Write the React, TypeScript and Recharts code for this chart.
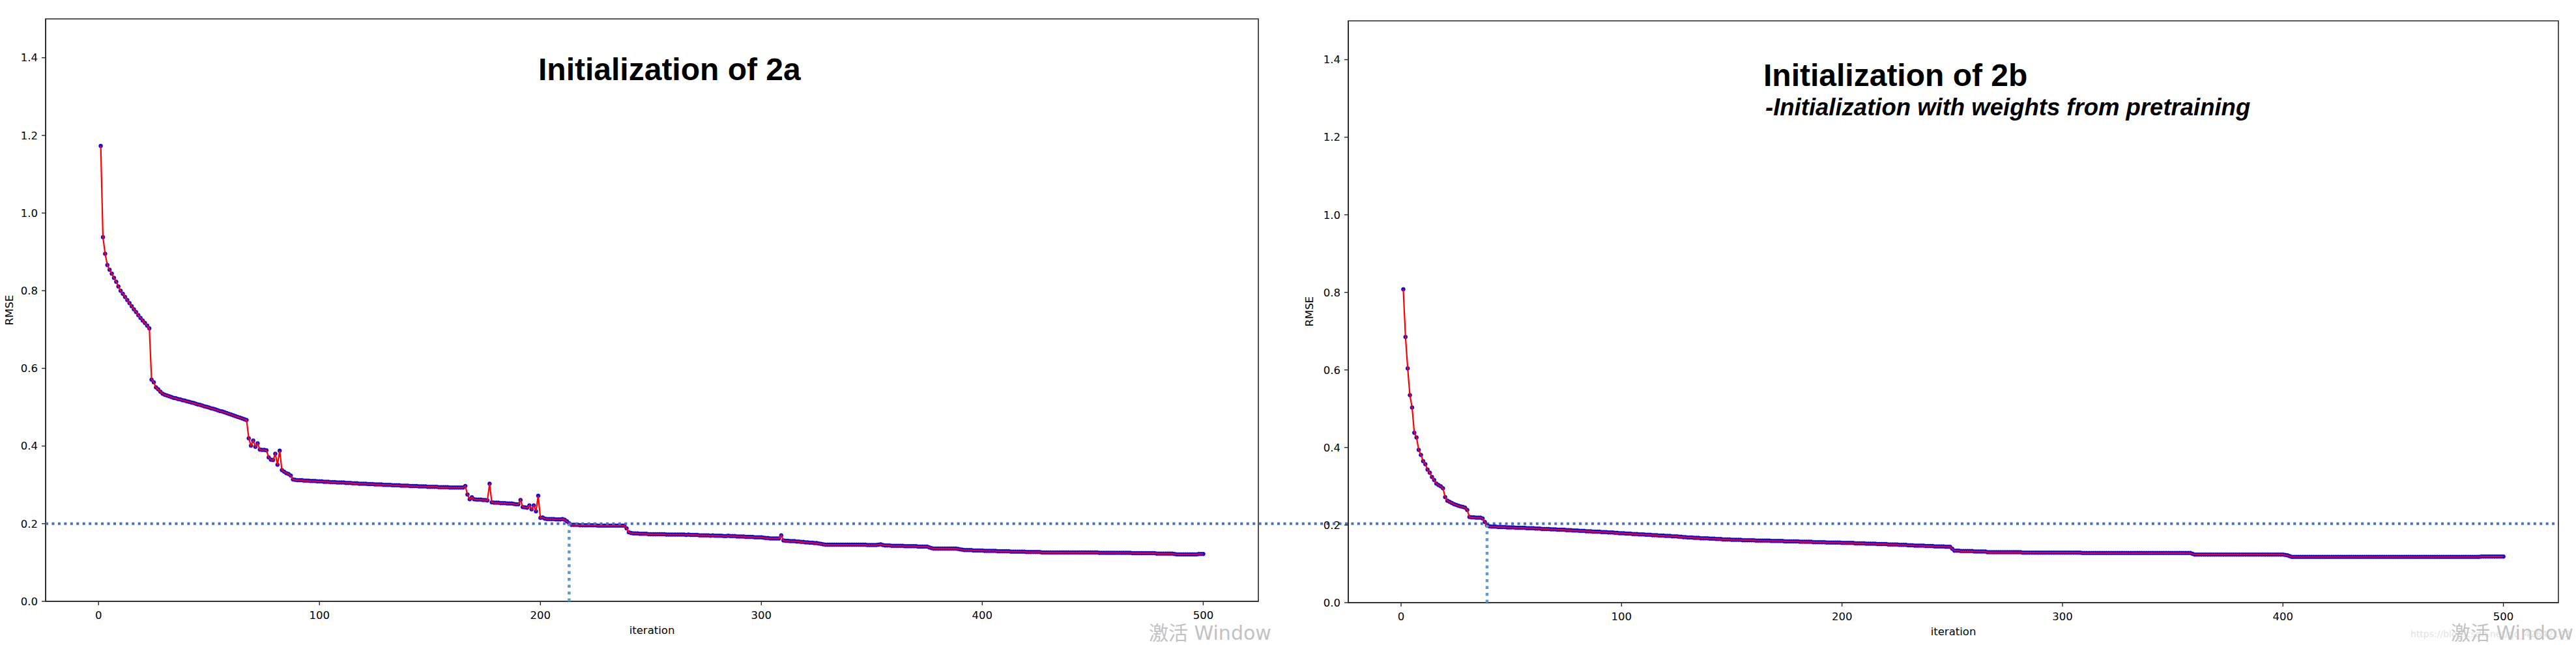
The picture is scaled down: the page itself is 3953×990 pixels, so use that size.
import React from 'react';
import { LineChart, Line, XAxis, YAxis, ReferenceLine, ReferenceArea } from 'recharts';

// RMSE per iteration, panel "Initialization of 2a" (iterations 1..500)
const rmse2a: number[] = [
  1.173,0.938,0.895,0.866,0.854,0.844,0.833,0.823,0.811,0.800,
  0.792,0.784,0.776,0.768,0.760,0.752,0.745,0.737,0.730,0.723,
  0.717,0.710,0.703,0.571,0.564,0.551,0.546,0.540,0.535,0.532,
  0.530,0.528,0.526,0.524,0.523,0.521,0.520,0.518,0.517,0.515,
  0.514,0.512,0.511,0.509,0.507,0.506,0.504,0.502,0.501,0.499,
  0.497,0.496,0.494,0.492,0.490,0.489,0.487,0.485,0.483,0.481,
  0.479,0.477,0.475,0.473,0.471,0.469,0.467,0.420,0.401,0.414,
  0.398,0.407,0.391,0.390,0.390,0.389,0.371,0.365,0.364,0.380,
  0.352,0.388,0.338,0.334,0.330,0.328,0.324,0.314,0.313,0.312,
  0.312,0.312,0.311,0.311,0.311,0.310,0.310,0.310,0.309,0.309,
  0.309,0.308,0.308,0.308,0.307,0.307,0.307,0.306,0.306,0.306,
  0.306,0.305,0.305,0.305,0.304,0.304,0.304,0.303,0.303,0.303,
  0.303,0.302,0.302,0.302,0.301,0.301,0.301,0.301,0.300,0.300,
  0.300,0.300,0.299,0.299,0.299,0.299,0.298,0.298,0.298,0.298,
  0.297,0.297,0.297,0.297,0.296,0.296,0.296,0.296,0.295,0.295,
  0.295,0.295,0.295,0.294,0.294,0.294,0.294,0.294,0.293,0.293,
  0.293,0.293,0.293,0.293,0.293,0.297,0.275,0.263,0.268,0.263,
  0.262,0.262,0.262,0.261,0.261,0.260,0.303,0.255,0.254,0.254,
  0.254,0.253,0.253,0.253,0.252,0.252,0.252,0.251,0.250,0.250,
  0.261,0.243,0.242,0.241,0.247,0.237,0.247,0.232,0.272,0.215,
  0.216,0.213,0.212,0.212,0.212,0.212,0.211,0.211,0.211,0.212,
  0.210,0.206,0.201,0.197,0.197,0.197,0.197,0.196,0.196,0.196,
  0.196,0.196,0.196,0.196,0.196,0.195,0.195,0.195,0.195,0.195,
  0.195,0.195,0.195,0.195,0.195,0.195,0.195,0.195,0.188,0.178,
  0.176,0.175,0.175,0.175,0.174,0.174,0.174,0.174,0.173,0.173,
  0.173,0.173,0.173,0.173,0.173,0.173,0.172,0.172,0.172,0.172,
  0.172,0.172,0.172,0.172,0.172,0.171,0.172,0.171,0.171,0.171,
  0.171,0.170,0.170,0.170,0.170,0.170,0.169,0.170,0.169,0.169,
  0.169,0.169,0.168,0.168,0.169,0.168,0.168,0.168,0.167,0.167,
  0.167,0.167,0.166,0.166,0.166,0.166,0.165,0.165,0.165,0.165,
  0.164,0.163,0.163,0.162,0.162,0.162,0.162,0.162,0.170,0.157,
  0.156,0.156,0.155,0.155,0.155,0.154,0.154,0.153,0.153,0.152,
  0.152,0.151,0.151,0.150,0.150,0.149,0.148,0.147,0.146,0.146,
  0.146,0.146,0.146,0.146,0.146,0.146,0.146,0.146,0.146,0.146,
  0.146,0.146,0.146,0.146,0.146,0.146,0.146,0.145,0.145,0.145,
  0.145,0.145,0.146,0.147,0.145,0.144,0.144,0.144,0.143,0.143,
  0.143,0.143,0.143,0.143,0.142,0.142,0.142,0.142,0.142,0.142,
  0.141,0.141,0.141,0.141,0.141,0.139,0.137,0.136,0.136,0.136,
  0.136,0.136,0.136,0.136,0.136,0.136,0.136,0.136,0.135,0.134,
  0.133,0.132,0.132,0.132,0.132,0.131,0.131,0.131,0.131,0.131,
  0.130,0.130,0.130,0.130,0.130,0.130,0.129,0.129,0.129,0.129,
  0.129,0.129,0.128,0.128,0.128,0.128,0.128,0.128,0.128,0.127,
  0.127,0.127,0.127,0.127,0.127,0.127,0.126,0.126,0.126,0.126,
  0.126,0.126,0.126,0.126,0.126,0.126,0.126,0.126,0.126,0.126,
  0.126,0.126,0.126,0.126,0.126,0.126,0.126,0.126,0.126,0.126,
  0.126,0.126,0.125,0.125,0.125,0.125,0.125,0.125,0.125,0.125,
  0.125,0.125,0.125,0.125,0.125,0.125,0.125,0.124,0.124,0.124,
  0.124,0.124,0.124,0.124,0.124,0.124,0.124,0.124,0.123,0.123,
  0.123,0.123,0.123,0.123,0.123,0.123,0.122,0.121,0.121,0.121,
  0.121,0.121,0.121,0.121,0.121,0.121,0.121,0.122,0.122,0.122,
];

// RMSE per iteration, panel "Initialization of 2b" (iterations 1..500)
const rmse2b: number[] = [
  0.808,0.685,0.604,0.535,0.503,0.438,0.426,0.394,0.381,0.365,
  0.357,0.343,0.335,0.324,0.316,0.307,0.303,0.300,0.295,0.272,
  0.263,0.260,0.257,0.254,0.252,0.250,0.248,0.247,0.245,0.239,
  0.221,0.220,0.220,0.219,0.219,0.219,0.217,0.208,0.199,0.197,
  0.196,0.196,0.196,0.195,0.195,0.195,0.195,0.194,0.194,0.194,
  0.194,0.193,0.193,0.193,0.193,0.193,0.192,0.192,0.192,0.192,
  0.191,0.191,0.191,0.190,0.190,0.190,0.190,0.189,0.189,0.189,
  0.188,0.188,0.188,0.188,0.187,0.187,0.187,0.186,0.186,0.186,
  0.185,0.185,0.185,0.184,0.184,0.184,0.183,0.183,0.183,0.183,
  0.182,0.182,0.182,0.181,0.181,0.181,0.180,0.180,0.179,0.179,
  0.179,0.178,0.178,0.178,0.177,0.177,0.177,0.176,0.176,0.176,
  0.175,0.175,0.175,0.174,0.174,0.174,0.173,0.173,0.173,0.172,
  0.172,0.172,0.171,0.171,0.171,0.170,0.170,0.169,0.169,0.168,
  0.168,0.168,0.167,0.167,0.167,0.166,0.166,0.166,0.166,0.165,
  0.165,0.165,0.164,0.164,0.164,0.163,0.163,0.163,0.163,0.162,
  0.162,0.162,0.162,0.162,0.161,0.161,0.161,0.161,0.161,0.161,
  0.160,0.160,0.160,0.160,0.160,0.160,0.160,0.159,0.159,0.159,
  0.159,0.159,0.159,0.158,0.158,0.158,0.158,0.158,0.158,0.158,
  0.157,0.157,0.157,0.157,0.157,0.157,0.156,0.156,0.156,0.156,
  0.156,0.156,0.155,0.155,0.155,0.155,0.155,0.155,0.155,0.154,
  0.154,0.154,0.154,0.154,0.154,0.153,0.153,0.153,0.153,0.153,
  0.152,0.152,0.152,0.152,0.152,0.151,0.151,0.151,0.151,0.151,
  0.150,0.150,0.150,0.150,0.150,0.149,0.149,0.149,0.149,0.148,
  0.148,0.148,0.147,0.147,0.147,0.147,0.147,0.146,0.146,0.146,
  0.146,0.145,0.145,0.145,0.145,0.145,0.144,0.144,0.144,0.139,
  0.134,0.134,0.134,0.133,0.133,0.133,0.133,0.133,0.133,0.132,
  0.132,0.132,0.132,0.132,0.132,0.130,0.130,0.130,0.130,0.130,
  0.130,0.130,0.130,0.130,0.130,0.130,0.130,0.130,0.130,0.130,
  0.130,0.129,0.129,0.129,0.129,0.129,0.129,0.129,0.129,0.129,
  0.129,0.129,0.129,0.129,0.129,0.129,0.129,0.129,0.129,0.129,
  0.129,0.129,0.129,0.129,0.129,0.129,0.129,0.129,0.128,0.128,
  0.128,0.128,0.128,0.128,0.128,0.128,0.128,0.128,0.128,0.128,
  0.128,0.128,0.128,0.128,0.128,0.128,0.128,0.128,0.128,0.128,
  0.128,0.128,0.128,0.128,0.128,0.128,0.128,0.128,0.128,0.128,
  0.128,0.128,0.128,0.128,0.128,0.128,0.128,0.128,0.128,0.128,
  0.128,0.128,0.128,0.128,0.128,0.128,0.128,0.128,0.126,0.124,
  0.124,0.124,0.124,0.124,0.124,0.124,0.124,0.124,0.124,0.124,
  0.124,0.124,0.124,0.124,0.124,0.124,0.124,0.124,0.124,0.124,
  0.124,0.124,0.124,0.124,0.124,0.124,0.124,0.124,0.124,0.124,
  0.124,0.124,0.124,0.124,0.124,0.124,0.124,0.124,0.124,0.124,
  0.123,0.122,0.120,0.118,0.118,0.118,0.118,0.118,0.118,0.118,
  0.118,0.118,0.118,0.118,0.118,0.118,0.118,0.118,0.118,0.118,
  0.118,0.118,0.118,0.118,0.118,0.118,0.118,0.118,0.118,0.118,
  0.118,0.118,0.118,0.118,0.118,0.118,0.118,0.118,0.118,0.118,
  0.118,0.118,0.118,0.118,0.118,0.118,0.118,0.118,0.118,0.118,
  0.118,0.118,0.118,0.118,0.118,0.118,0.118,0.118,0.118,0.118,
  0.118,0.118,0.118,0.118,0.118,0.118,0.118,0.118,0.118,0.118,
  0.118,0.118,0.118,0.118,0.118,0.118,0.118,0.118,0.118,0.118,
  0.118,0.118,0.118,0.118,0.118,0.118,0.118,0.118,0.118,0.119,
  0.119,0.119,0.119,0.119,0.119,0.119,0.119,0.119,0.119,0.119,
];

const xTicks = [0, 100, 200, 300, 400, 500];
const yTicks = [0, 0.2, 0.4, 0.6, 0.8, 1.0, 1.2, 1.4];
const xDomain: [number, number] = [-23.95, 524.95];
const yDomain: [number, number] = [0, 1.5];
const threshold = 0.2;
const crossing2a = 213;
const crossing2b = 39;
// x value (in left panel units) where the shared threshold line ends: right panel's frame edge
const thresholdLineEnd = 1113.4;

const titles = {
  a: 'Initialization of 2a',
  b: 'Initialization of 2b',
  bSub: '-Initialization with weights from pretraining',
};
const axisNames = { x: 'iteration', y: 'RMSE' };

const rows = (vals: number[]) => vals.map((v, i) => ({ iteration: i + 1, rmse: v }));
const data2a = rows(rmse2a);
const data2b = rows(rmse2b);

const AX = '#262626';
const FONT = "'DejaVu Sans', sans-serif";
const tickStyle = { fill: '#000', fontSize: 16.5, fontFamily: FONT };

const xLabel = (props: any) => {
  const vb = props.viewBox || {};
  return (
    <text x={vb.x + vb.width / 2} y={vb.y + 50} textAnchor="middle"
      style={{ fontSize: 16.5, fontFamily: FONT, fill: '#000' }}>{axisNames.x}</text>
  );
};

function axes(yWidth: number) {
  return [
    <XAxis key="x" type="number" dataKey="iteration" domain={xDomain} ticks={xTicks} allowDataOverflow
      height={50} tickSize={6} tickMargin={9} tick={tickStyle}
      axisLine={{ stroke: AX, strokeWidth: 1.6 }} tickLine={{ stroke: AX, strokeWidth: 1.4 }} label={xLabel} />,
    <YAxis key="y" type="number" domain={yDomain} ticks={yTicks} allowDataOverflow width={yWidth}
      tickFormatter={(v: number) => v.toFixed(1)} tickSize={6} tickMargin={6} tick={tickStyle}
      axisLine={{ stroke: AX, strokeWidth: 1.6 }} tickLine={{ stroke: AX, strokeWidth: 1.4 }} />,
  ];
}

function series() {
  return [
    <Line key="dots" type="linear" dataKey="rmse" stroke="none" isAnimationActive={false} activeDot={false}
      zIndex={400}
      dot={{ r: 3, fill: '#0000ff', stroke: '#0000ff', strokeWidth: 0.5 }} />,
    <Line key="line" type="linear" dataKey="rmse" stroke="#ff0000" strokeWidth={2.2} isAnimationActive={false}
      zIndex={1500} dot={false} activeDot={false} />,
  ];
}

function frame() {
  return (
    <ReferenceArea x1={xDomain[0]} x2={xDomain[1]} y1={yDomain[0]} y2={yDomain[1]} ifOverflow="visible"
      fill="none" fillOpacity={0} stroke={AX} strokeWidth={1.6} />
  );
}

const rotated = (x: number, y: number) => `rotate(-90 ${x} ${y})`;

export default function App() {
  return (
    <div style={{ position: 'absolute', left: 0, top: 0, width: 3953, height: 990, background: '#fff', overflow: 'hidden' }}>
      <div style={{ position: 'absolute', left: 0, top: 0 }}>
        <LineChart width={3953} height={990} data={data2a} margin={{ top: 29, right: 2022, bottom: 17, left: 0 }}>
          {axes(70)}
          {frame()}
          {series()}
          <ReferenceLine segment={[{ x: crossing2a, y: 0 }, { x: crossing2a, y: threshold }]} ifOverflow="visible"
            zIndex={1600} stroke="#5B9BD5" strokeWidth={4.5} strokeDasharray="4.5 6" />
          <ReferenceLine segment={[{ x: xDomain[0], y: threshold }, { x: thresholdLineEnd, y: threshold }]} ifOverflow="visible"
            zIndex={1600} stroke="#4472C4" strokeWidth={4} strokeDasharray="4 5.45" />
        </LineChart>
      </div>
      <div style={{ position: 'absolute', left: 1960, top: 0 }}>
        <LineChart width={1993} height={990} data={data2b} margin={{ top: 32, right: 27, bottom: 15, left: 0 }}>
          {axes(109)}
          {frame()}
          {series()}
          <ReferenceLine segment={[{ x: crossing2b, y: 0 }, { x: crossing2b, y: threshold }]} ifOverflow="visible"
            zIndex={1600} stroke="#5B9BD5" strokeWidth={4.5} strokeDasharray="4.5 6" />
        </LineChart>
      </div>
      <svg width={3953} height={990} style={{ position: 'absolute', left: 0, top: 0, pointerEvents: 'none' }}>
        <text x={14} y={476} transform={rotated(14, 476)} textAnchor="middle" dominantBaseline="central"
          style={{ fontSize: 16.5, fontFamily: FONT, fill: '#000' }}>{axisNames.y}</text>
        <text x={2009} y={478} transform={rotated(2009, 478)} textAnchor="middle" dominantBaseline="central"
          style={{ fontSize: 16.5, fontFamily: FONT, fill: '#000' }}>{axisNames.y}</text>
        <text x={826} y={123} style={{ fontFamily: "'Liberation Sans', Arial, sans-serif", fontWeight: 700, fontSize: 48, fill: '#000' }}>{titles.a}</text>
        <text x={2706} y={132} style={{ fontFamily: "'Liberation Sans', Arial, sans-serif", fontWeight: 700, fontSize: 48, fill: '#000' }}>{titles.b}</text>
        <text x={2709} y={177} style={{ fontFamily: "'Liberation Sans', Arial, sans-serif", fontWeight: 700, fontStyle: 'italic', fontSize: 36.5, fill: '#000' }}>{titles.bSub}</text>
        <text x={3699} y={978} style={{ fontFamily: FONT, fontSize: 14, fill: '#e2e2e2' }}>https://blog.csdn.net/qq_42642142</text>
        <text x={1763} y={982} style={{ fontFamily: "'DejaVu Sans', 'Noto Sans CJK SC', sans-serif", fontSize: 30, fill: '#c2c2c2' }}>激活 Window</text>
        <text x={3761} y={982} style={{ fontFamily: "'DejaVu Sans', 'Noto Sans CJK SC', sans-serif", fontSize: 30, fill: '#c2c2c2' }}>激活 Window</text>
      </svg>
    </div>
  );
}
